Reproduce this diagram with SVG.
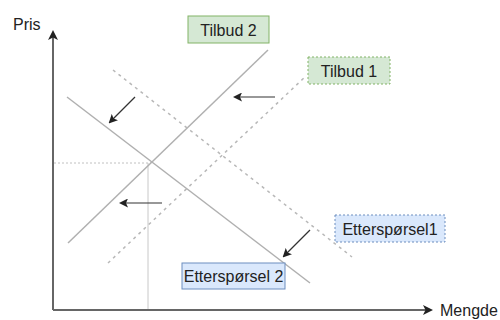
<svg xmlns="http://www.w3.org/2000/svg" width="500" height="320" viewBox="0 0 500 320">
  <defs>
    <marker id="axisHead" markerWidth="10" markerHeight="10" refX="8" refY="5" orient="auto" markerUnits="userSpaceOnUse">
      <path d="M0,0 L10,5 L0,10 L2.5,5 Z" fill="#222"/>
    </marker>
    <marker id="shiftHead" markerWidth="9" markerHeight="9" refX="7" refY="4.5" orient="auto" markerUnits="userSpaceOnUse">
      <path d="M0,0 L9,4.5 L0,9 L2,4.5 Z" fill="#222"/>
    </marker>
    <style>
      .axis { stroke: #666; stroke-width: 2; fill: none; }
      .curve { stroke: #b0b0b0; stroke-width: 1.5; fill: none; }
      .dash { stroke: #b8b8b8; stroke-width: 1.5; stroke-dasharray: 3 4; fill: none; }
      .guide { stroke: #c8c8c8; stroke-width: 1; fill: none; }
      .guide-dot { stroke: #c0c0c0; stroke-width: 1; stroke-dasharray: 2 2; fill: none; }
      .shift { stroke: #333; stroke-width: 1.2; fill: none; }
      .lbl { font-family: "Liberation Sans", Arial, sans-serif; font-size: 16px; fill: #222; }
      .green { fill: #d5e8d4; stroke: #82b366; stroke-width: 1; }
      .blue { fill: #dae8fc; stroke: #6c8ebf; stroke-width: 1; }
      .dashed { stroke-dasharray: 2 2; }
    </style>
  </defs>

  <!-- axes and helper lines -->
  <g id="connectors">
    <line class="axis" x1="53" y1="310" x2="53" y2="32" marker-end="url(#axisHead)"/>
    <line class="axis" x1="53" y1="310" x2="431" y2="310" marker-end="url(#axisHead)"/>
    <line class="guide-dot" x1="54" y1="163" x2="151" y2="163"/>
    <line class="guide" x1="148" y1="163" x2="148" y2="309"/>

    <!-- supply and demand curves -->
    <line class="curve" x1="67" y1="97" x2="310" y2="283"/>
    <line class="curve" x1="68" y1="243" x2="268" y2="50"/>
    <line class="dash" x1="113" y1="70" x2="352" y2="257"/>
    <line class="dash" x1="108" y1="263" x2="306" y2="76"/>

    <!-- shift arrows -->
    <line class="shift" x1="135" y1="97" x2="110" y2="122" marker-end="url(#shiftHead)"/>
    <line class="shift" x1="275" y1="97" x2="235" y2="97" marker-end="url(#shiftHead)"/>
    <line class="shift" x1="162" y1="203" x2="121" y2="203" marker-end="url(#shiftHead)"/>
    <line class="shift" x1="310" y1="230" x2="284" y2="256" marker-end="url(#shiftHead)"/>
  </g>

  <g id="axis-pris">
    <text class="lbl" x="13" y="30">Pris</text>
  </g>
  <g id="axis-mengde">
    <text class="lbl" x="440" y="316">Mengde</text>
  </g>

  <g id="tilbud2">
    <rect class="green" x="188" y="16" width="81" height="27"/>
    <text class="lbl" x="228.5" y="35.5" text-anchor="middle">Tilbud 2</text>
  </g>
  <g id="tilbud1">
    <rect class="green dashed" x="308" y="57" width="82" height="27"/>
    <text class="lbl" x="349" y="76.5" text-anchor="middle">Tilbud 1</text>
  </g>
  <g id="ettersporsel1">
    <rect class="blue dashed" x="335" y="215" width="110" height="27"/>
    <text class="lbl" x="390" y="234.5" text-anchor="middle">Etterspørsel1</text>
  </g>
  <g id="ettersporsel2">
    <rect class="blue" x="182" y="263" width="103" height="26"/>
    <text class="lbl" x="233.5" y="281.5" text-anchor="middle">Etterspørsel 2</text>
  </g>
</svg>
